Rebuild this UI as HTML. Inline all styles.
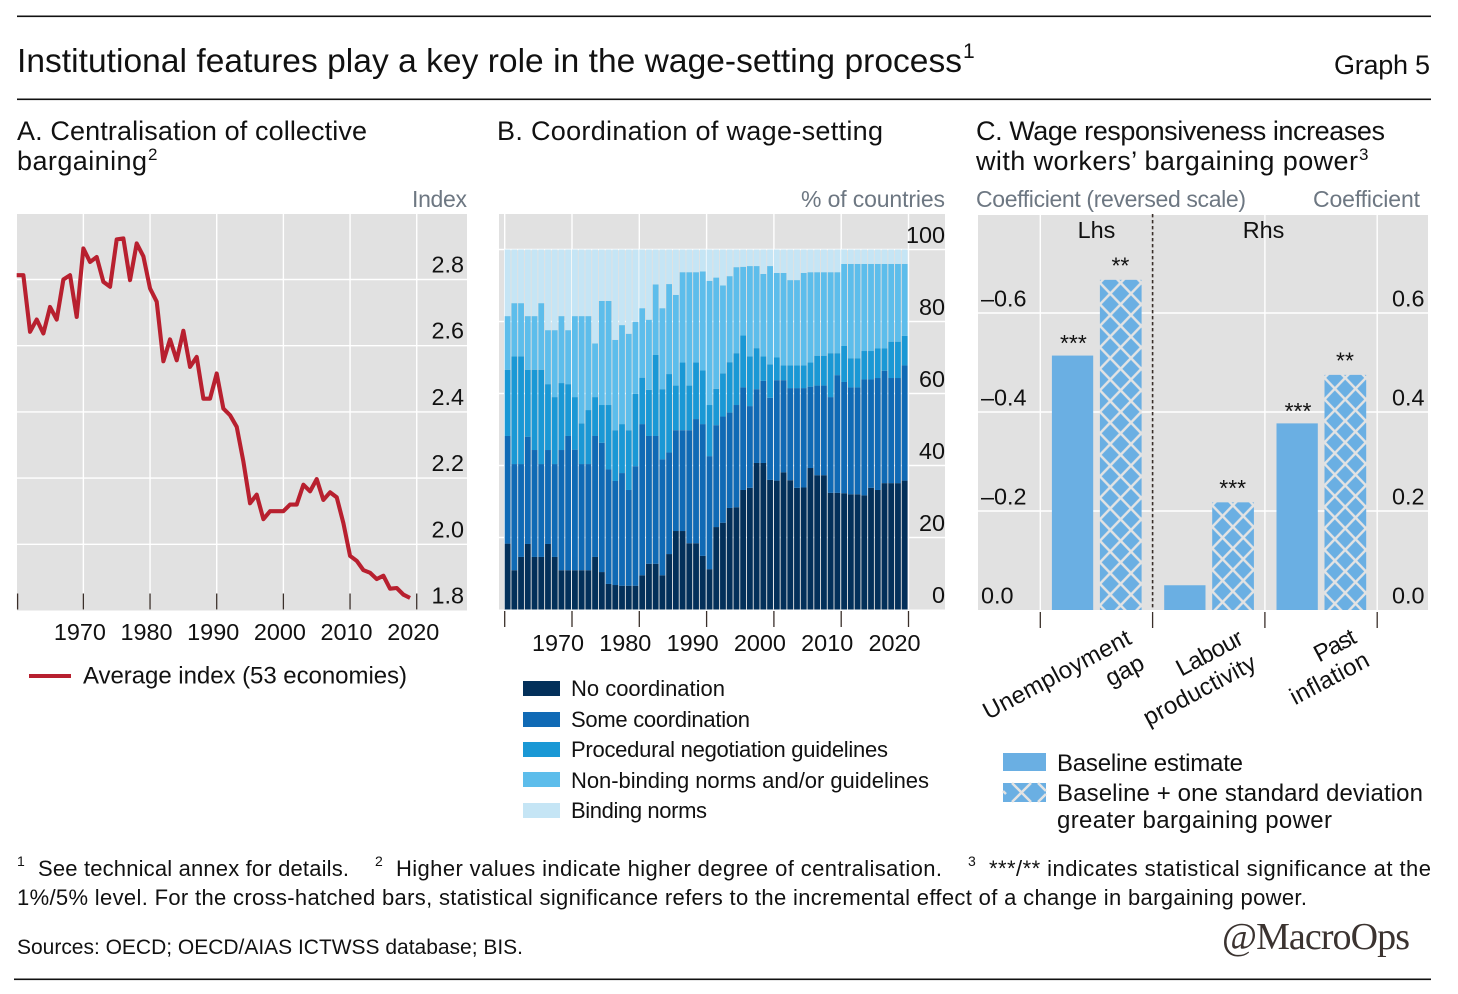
<!DOCTYPE html>
<html lang="en">
<head>
<meta charset="utf-8">
<title>Institutional features play a key role in the wage-setting process</title>
<style>
html,body{margin:0;padding:0;background:#fff;}
svg{display:block;font-family:"Liberation Sans",sans-serif;fill:#111;}
.t27{font-size:27px;}
.t24{font-size:24px;}
.t22{font-size:22px;}
.grey{font-size:23px;fill:#6d7782;}
.tick{font-size:23.4px;fill:#111;}
</style>
</head>
<body>
<svg id="chart" xmlns="http://www.w3.org/2000/svg" width="1458" height="994" viewBox="0 0 1458 994">
  <rect x="0" y="0" width="1458" height="994" fill="#fff"/>
  <rect x="17" y="15.5" width="1414" height="1.6" fill="#111"/>
  <rect x="17" y="98.5" width="1414" height="1.6" fill="#111"/>
  <rect x="14" y="978.5" width="1417" height="1.6" fill="#111"/>

  <text x="17" y="72" font-size="33.5" textLength="945">Institutional features play a key role in the wage-setting process</text>
  <text x="963" y="58" font-size="21" textLength="11">1</text>
  <text class="t27" x="1334" y="74" textLength="96">Graph 5</text>

  <text class="t27" x="17" y="140" textLength="350">A. Centralisation of collective</text>
  <text class="t27" x="17" y="170" textLength="130">bargaining</text>
  <text x="148" y="160" font-size="17">2</text>
  <text class="t27" x="497" y="140" textLength="386">B. Coordination of wage-setting</text>
  <text class="t27" x="976" y="140" textLength="409">C. Wage responsiveness increases</text>
  <text class="t27" x="976" y="170" textLength="382">with workers’ bargaining power</text>
  <text x="1359" y="160" font-size="17">3</text>

  <text class="grey" x="412" y="207" textLength="55">Index</text>
  <text class="grey" x="801" y="207" textLength="144">% of countries</text>
  <text class="grey" x="976" y="207" textLength="270">Coefficient (reversed scale)</text>
  <text class="grey" x="1313" y="207" textLength="107">Coefficient</text>

  <g id="panelA"></g>
  <g id="panelB"></g>
  <g id="panelC"></g>

  <!-- Panel A legend -->
  <g>
    <rect x="29" y="674" width="42" height="4" fill="#b8202f"/>
    <text class="t24" x="83" y="683.5" textLength="324">Average index (53 economies)</text>
  </g>

  <!-- Panel B legend -->
  <g>
    <rect x="523" y="681" width="37" height="15" fill="#03305a"/>
    <text class="t22" x="571" y="696" textLength="154">No coordination</text>
    <rect x="523" y="712" width="37" height="15" fill="#106ab5"/>
    <text class="t22" x="571" y="727" textLength="179">Some coordination</text>
    <rect x="523" y="742" width="37" height="15" fill="#1a98d5"/>
    <text class="t22" x="571" y="757" textLength="317">Procedural negotiation guidelines</text>
    <rect x="523" y="772" width="37" height="15" fill="#5dbdeb"/>
    <text class="t22" x="571" y="788" textLength="358">Non-binding norms and/or guidelines</text>
    <rect x="523" y="803" width="37" height="15" fill="#c5e5f5"/>
    <text class="t22" x="571" y="818" textLength="136">Binding norms</text>
  </g>

  <!-- Panel C category labels -->
  <g font-size="24">
    <text text-anchor="end" transform="rotate(-28 1133 643)" x="1133" y="643" textLength="164">Unemployment</text>
    <text text-anchor="end" transform="rotate(-28 1146 668)" x="1146" y="668" textLength="40">gap</text>
    <text text-anchor="end" transform="rotate(-28 1245 643)" x="1245" y="643" textLength="72">Labour</text>
    <text text-anchor="end" transform="rotate(-28 1258 668)" x="1258" y="668" textLength="124">productivity</text>
    <text text-anchor="end" transform="rotate(-28 1358 642)" x="1358" y="642" textLength="44">Past</text>
    <text text-anchor="end" transform="rotate(-28 1371 665)" x="1371" y="665" textLength="86">inflation</text>
  </g>

  <!-- Panel C legend -->
  <g>
    <rect x="1003" y="753" width="43" height="18" fill="#6aafe3"/>
    <text class="t24" x="1057" y="771" textLength="186">Baseline estimate</text>
    <g>
      <rect x="1003" y="783" width="43" height="19" fill="#6aafe3"/>
      <path d="M1012 783 L1031 802 M1031 783 L1012 802 M1038 783 L1046 791 M1038 802 L1046 794 M1003 791 L1006 794" stroke="#e3e3e3" stroke-width="2.5" fill="none"/>
    </g>
    <text class="t24" x="1057" y="801" textLength="366">Baseline + one standard deviation</text>
    <text class="t24" x="1057" y="828" textLength="275">greater bargaining power</text>
  </g>

  <!-- Footnotes -->
  <g>
    <text x="17" y="866" font-size="14">1</text>
    <text class="t22" x="38" y="876" textLength="311">See technical annex for details.</text>
    <text x="375" y="866" font-size="14">2</text>
    <text class="t22" x="396" y="876" textLength="546">Higher values indicate higher degree of centralisation.</text>
    <text x="968" y="866" font-size="14">3</text>
    <text class="t22" x="989" y="876" textLength="442">***/** indicates statistical significance at the</text>
    <text class="t22" x="17" y="905" textLength="1290">1%/5% level. For the cross-hatched bars, statistical significance refers to the incremental effect of a change in bargaining power.</text>
    <text x="17" y="954" font-size="21" textLength="506">Sources: OECD; OECD/AIAS ICTWSS database; BIS.</text>
  </g>
  <text x="1222" y="949" font-family="'Liberation Serif',serif" font-size="38" fill="#3b3330" textLength="188">@MacroOps</text>
</svg>

<script>
// ---- Panel A data ----
const lineStartYear = 1960;
const averageIndex = [2.813,2.813,2.642,2.679,2.637,2.717,2.679,2.80,2.813,2.687,2.894,2.853,2.868,2.793,2.778,2.921,2.924,2.798,2.909,2.87,2.773,2.733,2.553,2.619,2.556,2.645,2.536,2.566,2.44,2.44,2.516,2.41,2.39,2.355,2.25,2.124,2.15,2.076,2.10,2.10,2.10,2.12,2.12,2.18,2.16,2.197,2.134,2.157,2.142,2.064,1.965,1.95,1.922,1.914,1.895,1.905,1.866,1.868,1.848,1.838];
const panelAValueTicks = [1.8,2.0,2.2,2.4,2.6,2.8];
const decadeTicks = [1960,1970,1980,1990,2000,2010,2020];
const decadeLabels = [1970,1980,1990,2000,2010,2020];

// ---- Panel B data: cumulative level reached by each stacked band, % of countries ----
const barStartYear = 1960;
const noCoordination = [18.3,10.9,14.6,18.2,14.6,14.6,18.2,14.6,10.9,10.9,10.9,10.9,10.9,14.6,10.4,7.1,6.8,6.6,6.6,6.6,9.5,12.7,12.7,9.5,15.4,21.8,21.8,18.4,18.4,14.9,11.2,22.9,24.1,28.2,28.4,33.2,33.8,40.7,40.7,36,35.8,38.1,35.9,33.8,33.9,39.3,37.3,37.3,32.4,32.4,32.3,32,32,31.7,33.8,33.2,35.1,35.1,35.1,35.8];
const someCoordination = [48.2,40.4,40.4,48,44.3,40.4,44.3,40.4,44.3,48.2,44.4,40.4,40.4,48.2,46.3,38.9,35.7,37.9,33.2,39.8,51.5,48.2,48.2,41.7,43.6,49.8,49.8,49.8,52.9,51.5,42.6,51.2,53.6,54.7,56.8,61.7,56.5,61.2,63.5,58.8,63.7,63.7,61.5,61.5,61.5,61.9,62.2,62.2,59,65.1,63.2,61.7,61.7,63.9,63.9,64.3,66.3,64.3,64.3,67.8];
const proceduralGuidelines = [66.6,70.3,70.3,66.6,66.6,66.6,62.6,59,62.9,62.6,59,51.7,55.4,59,56.8,56.8,49.8,51.5,49.8,59.9,64.4,61,70.7,61.2,65.4,62.2,68.6,62.2,68.6,66.4,56.8,61.3,65.6,68.7,71.2,76.1,70.3,72.6,70.3,68.1,70,67.8,67.8,67.8,67.8,68.6,70.5,70.5,71.2,71.2,73.2,69.8,69.8,71.8,71.8,72.5,72.5,74.4,74.4,76];
const nonBindingNorms = [81.5,85.1,85.1,81.5,81.5,85.1,77.6,77.6,81.5,77.6,81.5,81.5,81.5,73.9,85.7,85.7,74.9,79,76.6,79.9,83.7,80.5,90.3,83.7,90.4,87.4,93.7,93.7,93.7,93.9,91.3,92.2,90,92.6,95.1,95.2,95.4,95.4,93.2,95.4,93.5,93.5,91.5,91.5,93.5,93.7,93.7,93.7,93.7,93.7,96,96,96,96,96,96,96,96,96,96];
const bindingNorms = [100,100,100,100,100,100,100,100,100,100,100,100,100,100,100,100,100,100,100,100,100,100,100,100,100,100,100,100,100,100,100,100,100,100,100,100,100,100,100,100,100,100,100,100,100,100,100,100,100,100,100,100,100,100,100,100,100,100,100,100];
const panelBValueTicks = [0,20,40,60,80,100];

// ---- Panel C data ----
const wageCategories = ['unemployment-gap','labour-productivity','past-inflation'];
const baselineEstimate = [-0.514,0.05,0.377];
const baselineSignificance = ['***','','***'];
const bargainingPowerEstimate = [-0.667,0.2175,0.475];
const bargainingPowerSignificance = ['**','***','**'];
const panelCValueTicks = [0,0.2,0.4,0.6];

// ---- helpers ----
const NS = 'http://www.w3.org/2000/svg';
function make(parent, tag, attrs, text) {
  const node = document.createElementNS(NS, tag);
  for (const k in attrs) node.setAttribute(k, attrs[k]);
  if (text !== undefined) node.textContent = text;
  parent.appendChild(node);
  return node;
}
let el;
const GRID = '#ffffff';
const TICK = '#3a2f2a';

// ---- Panel A ----
const gA = document.getElementById('panelA');
const xA = year => 16.7 + (year - 1960) * 6.667;
const yA = v => 610.5 - (v - 1.8) * 331;

el = make(gA, 'rect', {x:17, y:214, width:450, height:396.5, fill:'#e1e1e1'});


panelAValueTicks.forEach(v => {
  if (v > 1.8) {
    el = make(gA, 'line', {x1:17, x2:467, y1:yA(v), y2:yA(v), stroke:GRID, 'stroke-width':1.4});
    
    
  }
  el = make(gA, 'text', {x:464, y:yA(v) - 7, 'text-anchor':'end', class:'tick'}, v.toFixed(1));
  
  
});
decadeTicks.forEach(year => {
  if (year > 1960) {
    el = make(gA, 'line', {x1:xA(year), x2:xA(year), y1:214, y2:610, stroke:GRID, 'stroke-width':1.4});
    
    
  }
  el = make(gA, 'line', {x1:Math.max(xA(year), 17.6), x2:Math.max(xA(year), 17.6), y1:593.5, y2:609.5, stroke:TICK, 'stroke-width':1.3});
  
  
});
decadeLabels.forEach(year => {
  el = make(gA, 'text', {x:xA(year) - 3.5, y:640, 'text-anchor':'middle', class:'tick'}, String(year));
  
  
});
el = make(gA, 'polyline', {
  points: averageIndex.map((v, i) => xA(lineStartYear + i).toFixed(2) + ',' + yA(v).toFixed(2)).join(' '),
  fill:'none', stroke:'#b8202f', 'stroke-width':4.1, 'stroke-linejoin':'round'
});



// ---- Panel B ----
const gB = document.getElementById('panelB');
const xB = year => 504.7 + (year - 1960) * 6.73;
const yB = v => 609.5 - v * 3.6;

el = make(gB, 'rect', {x:499, y:214, width:446, height:395.5, fill:'#e1e1e1'});


panelBValueTicks.forEach(v => {
  if (v > 0) {
    el = make(gB, 'line', {x1:499, x2:945, y1:yB(v), y2:yB(v), stroke:GRID, 'stroke-width':1.4});
    
    
  }
});
decadeTicks.forEach(year => {
  el = make(gB, 'line', {x1:xB(year), x2:xB(year), y1:214, y2:609, stroke:GRID, 'stroke-width':1.4});
  
  
});

const stackedSeries = [
  {name:'no-coordination', values:noCoordination, color:'#03305a'},
  {name:'some-coordination', values:someCoordination, color:'#106ab5'},
  {name:'procedural-guidelines', values:proceduralGuidelines, color:'#1a98d5'},
  {name:'non-binding-norms', values:nonBindingNorms, color:'#5dbdeb'},
  {name:'binding-norms', values:bindingNorms, color:'#c5e5f5'}
];
stackedSeries.forEach((series, s) => {
  const below = s > 0 ? stackedSeries[s - 1].values : null;
  series.values.forEach((top, i) => {
    const floor = below ? below[i] : 0;
    el = make(gB, 'rect', {
      x: xB(barStartYear + i).toFixed(2),
      y: yB(top).toFixed(2),
      width: 5.8,
      height: (yB(floor) - yB(top)).toFixed(2),
      fill: series.color
    });
    
    
  });
});
panelBValueTicks.forEach(v => {
  el = make(gB, 'text', {x:945, y:yB(v) - 6.5, 'text-anchor':'end', class:'tick'}, String(v));
  
  
});
decadeTicks.forEach(year => {
  el = make(gB, 'line', {x1:xB(year), x2:xB(year), y1:611, y2:627, stroke:TICK, 'stroke-width':1.3});
  
  
});
decadeLabels.forEach(year => {
  el = make(gB, 'text', {x:xB(year) - 14, y:651, 'text-anchor':'middle', class:'tick'}, String(year));
  
  
});

// ---- Panel C ----
const gC = document.getElementById('panelC');
const groupX = i => 1040.3 + i * 112.3;
const yC = v => 610 - Math.abs(v) * 495;
const barW = 41.3;

el = make(gC, 'rect', {x:978, y:215, width:450, height:395, fill:'#e1e1e1'});


panelCValueTicks.forEach(v => {
  if (v > 0) {
    el = make(gC, 'line', {x1:978, x2:1428, y1:yC(v), y2:yC(v), stroke:GRID, 'stroke-width':1.4});
    
    
  }
  el = make(gC, 'text', {x:981, y:yC(v) - 6.5, class:'tick'}, (v > 0 ? '–' : '') + v.toFixed(1));
  
  
  el = make(gC, 'text', {x:1424.5, y:yC(v) - 6.5, 'text-anchor':'end', class:'tick'}, v.toFixed(1));
  
  
});
[0, 1, 2, 3].forEach(i => {
  if (i !== 1) {
    el = make(gC, 'line', {x1:groupX(i), x2:groupX(i), y1:215, y2:610, stroke:GRID, 'stroke-width':1.4});
    
    
  }
  el = make(gC, 'line', {x1:groupX(i), x2:groupX(i), y1:612, y2:628, stroke:TICK, 'stroke-width':1.3});
  
  
});
el = make(gC, 'line', {x1:groupX(1), x2:groupX(1), y1:214, y2:610, stroke:'#3a2f2a', 'stroke-width':1.6, 'stroke-dasharray':'3.4 2.6'});


el = make(gC, 'text', {x:1096.5, y:238, 'text-anchor':'middle', class:'tick'}, 'Lhs');


el = make(gC, 'text', {x:1263.5, y:238, 'text-anchor':'middle', class:'tick'}, 'Rhs');



const defs = make(gC, 'defs', {});
wageCategories.forEach((cat, i) => {
  // baseline bar
  const bx = groupX(i) + 11.6;
  const by = yC(baselineEstimate[i]);
  el = make(gC, 'rect', {x:bx, y:by, width:barW, height:610 - by, fill:'#6aafe3'});
  
  
  if (baselineSignificance[i]) {
    el = make(gC, 'text', {x:bx + 21.5, y:by - 4.5, 'text-anchor':'middle', 'font-size':23}, baselineSignificance[i]);
    
    
  }
  // hatched bar
  const hx = groupX(i) + 59.6;
  const hy = yC(bargainingPowerEstimate[i]);
  const pattern = make(defs, 'pattern', {id:'hatch' + i, patternUnits:'userSpaceOnUse', x:hx, y:hy + 3, width:20.7, height:21.5});
  make(pattern, 'rect', {x:0, y:0, width:20.7, height:21.5, fill:'#6aafe3'});
  make(pattern, 'path', {d:'M0 0L20.7 21.5M20.7 0L0 21.5', stroke:'#e3e3e3', 'stroke-width':2.5, fill:'none'});
  el = make(gC, 'rect', {x:hx, y:hy, width:barW + 0.4, height:610 - hy, fill:'url(#hatch' + i + ')'});
  
  
  if (bargainingPowerSignificance[i]) {
    el = make(gC, 'text', {x:hx + 20.5, y:hy - 6.5, 'text-anchor':'middle', 'font-size':23}, bargainingPowerSignificance[i]);
    
    
  }
});
</script>
</body>
</html>
